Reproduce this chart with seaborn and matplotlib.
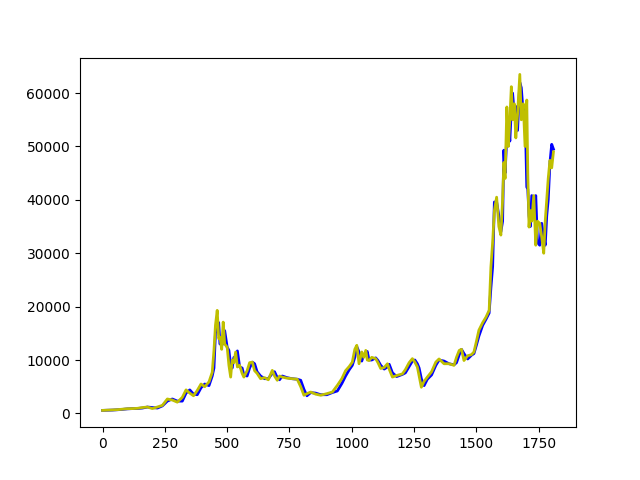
import numpy as np
import pandas as pd
import matplotlib
matplotlib.use('Agg')
import matplotlib.pyplot as plt
import seaborn as sns

# day index
days = [0, 20, 40, 60, 80, 100, 120, 140, 160, 180, 200, 220, 240, 260, 280, 300, 320, 335, 350, 365,
        380, 395, 410, 427, 440, 447, 453, 460, 466, 471, 478, 484, 490, 500, 507, 514, 520, 527, 534, 541,
        550, 560, 567, 580, 590, 601, 610, 620, 634, 650, 665, 681, 690, 701, 710, 721, 740, 760, 781, 795,
        808, 820, 835, 855, 875, 900, 922, 942, 960, 975, 990, 1002, 1012, 1020, 1029, 1040, 1048, 1056, 1062, 1069,
        1080, 1096, 1105, 1116, 1130, 1143, 1150, 1163, 1180, 1203, 1215, 1230, 1243, 1253, 1263, 1270, 1279, 1290, 1303, 1320,
        1337, 1350, 1370, 1390, 1410, 1420, 1431, 1440, 1450, 1465, 1480, 1490, 1500, 1510, 1525, 1538, 1551, 1558, 1565, 1572,
        1581, 1590, 1598, 1605, 1610, 1615, 1622, 1628, 1634, 1640, 1645, 1652, 1658, 1665, 1674, 1680, 1688, 1695, 1702, 1706,
        1711, 1716, 1722, 1730, 1738, 1745, 1754, 1762, 1770, 1776, 1782, 1788, 1795, 1802, 1809]

# actual price (blue)
actual = [560, 580, 620, 680, 750, 850, 900, 920, 1000, 1190, 1100, 1000, 1400, 2300, 2700, 2300, 2300, 3800, 4400, 3600,
          3500, 4800, 5500, 5200, 7000, 8500, 15000, 16500, 17000, 13000, 13500, 13000, 15500, 12400, 11800, 9000, 8500, 10500, 10000, 11700,
          8700, 8500, 7200, 7000, 8500, 9600, 9300, 7800, 7000, 6500, 6500, 7500, 7800, 6700, 6300, 7000, 6700, 6500, 6400, 6200,
          4500, 3300, 3900, 3800, 3500, 3500, 3900, 4200, 5600, 7000, 8200, 9000, 10500, 12500, 11500, 9800, 11000, 11000, 11600, 10000,
          10000, 10400, 9900, 9000, 8300, 8700, 9200, 7600, 6900, 7300, 7600, 8800, 9800, 10000, 9300, 8500, 6500, 5200, 6400, 7200,
          9000, 10000, 9800, 9300, 9100, 9500, 11000, 12000, 11200, 10200, 10900, 11200, 12800, 14500, 16500, 17600, 18800, 23500, 27500, 39600,
          39600, 37000, 34000, 36000, 49300, 45000, 52000, 55000, 51000, 57000, 60000, 56000, 57500, 53000, 62000, 61000, 56000, 57000, 42400, 42000,
          37000, 35000, 40800, 37000, 40800, 32000, 31500, 35600, 33000, 31500, 37000, 40000, 47000, 50400, 49500]

# predicted price (yellow)
predicted = [560, 600, 650, 700, 800, 880, 900, 950, 1100, 1190, 900, 1200, 1500, 2700, 2500, 2100, 3000, 4400, 3800, 3300,
             4300, 5500, 5000, 5900, 7700, 11800, 16500, 19300, 14000, 14300, 12000, 17100, 13000, 12400, 9000, 6800, 10000, 9500, 11500, 8700,
             9000, 7500, 6800, 8000, 9500, 9600, 8000, 7500, 6500, 6700, 6300, 8060, 7000, 6200, 7000, 6800, 6600, 6500, 6400, 5000,
             3400, 3700, 4000, 3600, 3400, 3700, 4000, 5250, 6500, 8000, 8800, 9600, 12000, 12750, 9300, 11500, 10500, 11800, 10000, 9900,
             10500, 10250, 9500, 8400, 8600, 9300, 8300, 6800, 7100, 7400, 8200, 9500, 10250, 9600, 8700, 7000, 4900, 6000, 6800, 7800,
             9600, 10200, 9300, 9300, 9000, 10500, 11800, 12000, 9900, 10800, 11000, 11500, 13500, 15600, 17000, 18000, 19300, 27400, 32000, 38000,
             40500, 35000, 33400, 40000, 47000, 44000, 57400, 50000, 55000, 61200, 55000, 58000, 51600, 56000, 63500, 55000, 58000, 50000, 58700, 45000,
             34900, 38000, 36000, 40800, 31500, 36000, 35600, 33000, 30000, 36000, 40000, 44000, 47400, 46000, 49000]

df = pd.DataFrame({'day': days, 'actual': actual, 'predicted': predicted})

fig, ax = plt.subplots(figsize=(6.4, 4.8), dpi=100)
sns.lineplot(x='day', y='actual', data=df, color='b', linewidth=2, ax=ax)
sns.lineplot(x='day', y='predicted', data=df, color='y', linewidth=2, ax=ax)
ax.set_xlabel('')
ax.set_ylabel('')
plt.savefig('out.png')
